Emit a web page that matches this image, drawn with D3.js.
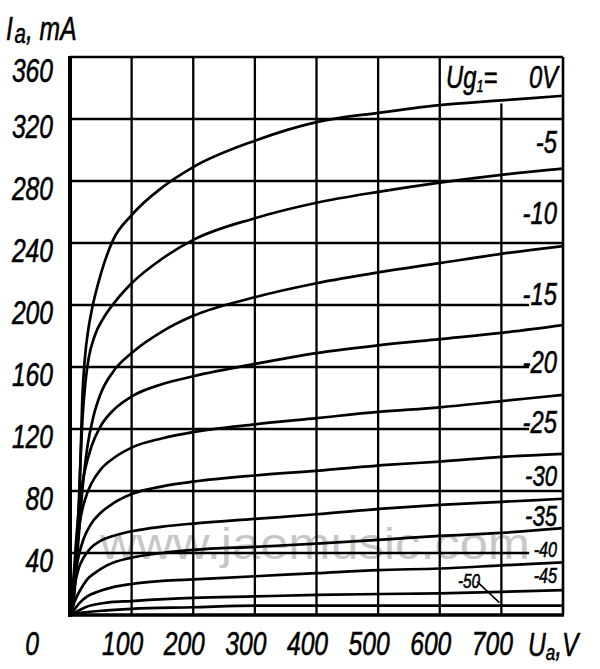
<!DOCTYPE html>
<html><head><meta charset="utf-8">
<script src="https://cdn.jsdelivr.net/npm/d3@7"></script>
<style>body{margin:0;background:#fff}svg{display:block}</style>
</head><body>
<svg id="c" width="600" height="669"></svg>
<script>
// ---------------- data ----------------
const voltageGrid = [100, 200, 300, 400, 500, 600, 700];
const currentGrid = [40, 80, 120, 160, 200, 240, 280, 320];
const xTickLabels = [100, 200, 300, 400, 500, 600, 700];
const yTickLabels = [40, 80, 120, 160, 200, 240, 280, 320, 360];
const gridValues = [0, -5, -10, -15, -20, -25, -30, -35, -40, -45, -50];
const curveLabels = ["0V", "-5", "-10", "-15", "-20", "-25", "-30", "-35", "-40", "-45", "-50"];

// plate current Ia (mA) vs plate voltage Ua (V), one array per grid voltage
const ug0   = [[0,0],[5,6],[10,30],[14,60],[17,100],[20,140],[24,165],[30,185],[36,198],[50,220],[70,242],[100,258],[150,276],[200,289],[300,306],[400,318],[500,324],[600,329],[700,332],[800,335]];
const ugm5  = [[0,0],[6,12],[12,50],[16,90],[20,125],[25,150],[30,165],[40,180],[55,192],[75,203],[100,214],[150,230],[200,242],[300,256],[400,266],[500,273],[600,279],[700,284],[800,288]];
const ugm10 = [[0,0],[8,22],[14,50],[20,80],[28,108],[38,128],[50,143],[70,157],[100,169],[150,183],[200,193],[300,205],[400,214],[500,221],[600,227],[700,233],[800,238]];
const ugm15 = [[0,0],[5,20],[10,48],[16,75],[24,93],[35,109],[50,122],[70,132],[100,141],[150,149],[200,154],[300,162],[400,169],[500,174],[600,178],[700,182],[800,187]];
const ugm20 = [[0,0],[5,18],[10,40],[16,60],[24,74],[35,85],[50,94],[70,101],[100,108],[150,114],[200,118],[300,123],[400,127],[500,131],[600,134],[700,138],[800,142]];
const ugm25 = [[0,0],[4,13],[8,25],[14,38],[22,49],[33,58],[50,66],[70,72],[100,78],[150,83],[200,86],[300,90],[400,93],[520,97],[600,99],[700,102],[800,104]];
const ugm30 = [[0,0],[4,10],[8,20],[14,30],[22,37],[33,43],[50,48],[70,51],[100,54],[150,57],[200,59],[300,62],[400,65],[520,69],[600,71],[700,73],[800,75]];
const ugm35 = [[0,0],[5,6],[10,11],[18,17],[28,23],[40,27],[60,32],[100,37],[150,40],[200,42],[300,44],[400,46],[520,49],[600,51],[700,53],[800,56]];
const ugm40 = [[0,0],[8,4],[16,8],[28,12],[45,15],[70,18],[100,20],[150,22],[200,23],[300,25],[400,27],[500,29],[600,30],[700,32],[800,34]];
const ugm45 = [[0,0],[10,2],[25,5],[60,8],[100,9],[200,11],[300,12],[400,13],[600,14],[800,16]];
const ugm50 = [[0,0],[20,1.5],[60,3],[100,4],[200,5],[300,6],[500,6],[800,6]];
const series = [ug0, ugm5, ugm10, ugm15, ugm20, ugm25, ugm30, ugm35, ugm40, ugm45, ugm50];

// ---------------- layout / style ----------------
const labelDy = [0, -16, -22, -20, -22, -21, -13, -2, -5, -7, 0];
const labelSize = [28, 28, 28, 28, 28, 28, 26, 26, 19, 19, 18];
const FONT = "'Liberation Sans', Arial, sans-serif";
const svg = d3.select("#c");
const x = d3.scaleLinear().domain([0, 800]).range([70, 563]);
const y = d3.scaleLinear().domain([0, 360]).range([615, 57]);

const g = svg.append("g");

// watermark (under the drawing)
svg.insert("text", "g").attr("x", 100).attr("y", 559)
  .attr("textLength", 430).attr("lengthAdjust","spacingAndGlyphs")
  .attr("font-family", FONT).attr("font-size", 44).attr("fill", "#9a9a9a").attr("opacity", 0.55)
  .text("www.jaemusic.com");

// grid
g.selectAll("line.h").data(currentGrid).join("line")
  .attr("x1", x(0)).attr("x2", d => ([40,120,160,200].includes(d) ? x(745) : x(800)))
  .attr("y1", d => y(d)).attr("y2", d => y(d))
  .attr("stroke", "#000").attr("stroke-width", 2.3);
g.selectAll("line.v").data(voltageGrid).join("line")
  .attr("x1", d => x(d)).attr("x2", d => x(d))
  .attr("y1", y(0)).attr("y2", d => d === 700 ? y(330) : y(360))
  .attr("stroke", "#000").attr("stroke-width", 2.3);

// frame
g.append("line").attr("x1", x(0)).attr("x2", x(800)).attr("y1", y(360)).attr("y2", y(360)).attr("stroke","#000").attr("stroke-width",2.3);
g.append("line").attr("x1", x(800)).attr("x2", x(800)).attr("y1", y(360)).attr("y2", y(0)).attr("stroke","#000").attr("stroke-width",2.6);
g.append("line").attr("x1", x(0)).attr("x2", x(0)).attr("y1", y(360)-1).attr("y2", y(0)+2).attr("stroke","#000").attr("stroke-width",4);
g.append("line").attr("x1", x(0)-2).attr("x2", x(800)+1).attr("y1", y(0)).attr("y2", y(0)).attr("stroke","#000").attr("stroke-width",3.6);

// curves
const line = d3.line().x(d => x(d[0])).y(d => y(d[1])).curve(d3.curveMonotoneX);
g.selectAll("path.curve").data(series).join("path")
  .attr("d", line).attr("fill", "none").attr("stroke", "#000").attr("stroke-width", 2.7)
  .attr("stroke-linejoin","round");

// helper for stretched italic text
function txt(str, px, py, anchor, size) {
  return svg.append("text")
    .attr("transform", `translate(${px},${py}) scale(0.85,1.15)`)
    .attr("text-anchor", anchor || "start")
    .attr("font-family", FONT).attr("font-style", "italic")
    .attr("stroke", "#000").attr("stroke-width", 0.5)
    .attr("font-size", size || 29).attr("fill", "#000").text(str);
}

// y tick labels
yTickLabels.forEach(v => txt(String(v), 53, y(v) + (v === 360 ? 25 : 19), "end"));
// x tick labels
txt("0", 32, 655, "middle");
xTickLabels.forEach(v => txt(String(v), x(v) - 9, 655, "middle"));

// axis titles
const ya = svg.append("text").attr("transform","translate(6,40) scale(0.85,1.12)")
  .attr("font-family", FONT).attr("font-style","italic").attr("font-size",29).attr("fill","#000")
  .attr("stroke","#000").attr("stroke-width",0.5);
ya.append("tspan").text("I");
ya.append("tspan").attr("font-size",24).attr("dy",3).attr("dx",2).text("a");
ya.append("tspan").attr("dy",-3).text(", mA");

const xa = svg.append("text").attr("transform","translate(528,656) scale(0.85,1.12)")
  .attr("font-family", FONT).attr("font-style","italic").attr("font-size",29).attr("fill","#000")
  .attr("stroke","#000").attr("stroke-width",0.5);
xa.append("tspan").text("U");
xa.append("tspan").attr("font-size",20).attr("dy",4).text("a");
xa.append("tspan").attr("dy",-4).text(",V");

// curve labels
const lab = svg.append("text").attr("transform", "translate(446,88) scale(0.85,1.12)")
  .attr("font-family", FONT).attr("font-style","italic").attr("font-size",28).attr("fill","#000")
  .attr("stroke","#000").attr("stroke-width",0.5);
lab.append("tspan").text("Ug");
lab.append("tspan").attr("font-size",15).attr("dy",4).text("1");
lab.append("tspan").attr("dy",-4).text("=");
txt(curveLabels[0], 558, 88, "end", 28);

series.forEach((s, i) => {
  if (i === 0 || i === series.length - 1) return;
  const last = s[s.length - 1][1];
  txt(curveLabels[i], 557, y(last) + labelDy[i], "end", labelSize[i]);
});
// -50 label with leader
const s50 = series[series.length - 1];
const y50 = y(s50[s50.length - 1][1]);
txt(curveLabels[10], 480, y50 - 18, "end", labelSize[10]);
g.append("line").attr("x1", 477).attr("y1", y50 - 24)
  .attr("x2", x(700) - 2).attr("y2", y50 - 3)
  .attr("stroke","#000").attr("stroke-width",1.6);
</script>
</body></html>
